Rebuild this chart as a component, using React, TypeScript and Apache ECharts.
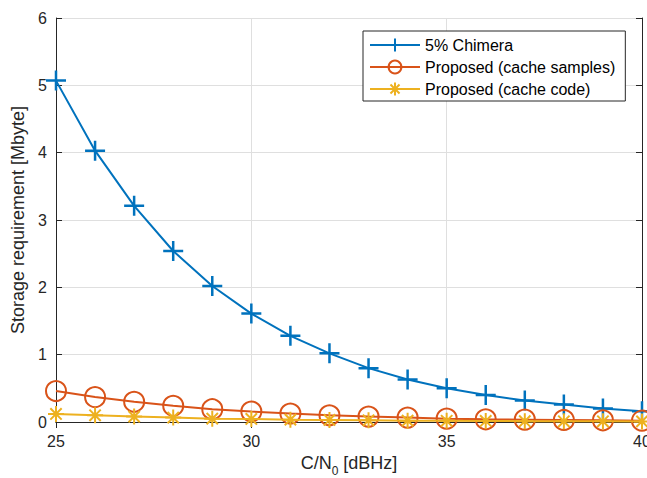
import React, { useEffect, useRef } from "react";
import * as echarts from "echarts";

const cn0 = [25, 26, 27, 28, 29, 30, 31, 32, 33, 34, 35, 36, 37, 38, 39, 40];
const chimera = [5.07, 4.03, 3.21, 2.54, 2.02, 1.61, 1.28, 1.02, 0.8, 0.63, 0.5, 0.4, 0.32, 0.26, 0.2, 0.16];
const cacheSamples = [0.46, 0.37, 0.3, 0.24, 0.19, 0.155, 0.125, 0.1, 0.08, 0.065, 0.05, 0.04, 0.035, 0.03, 0.025, 0.02];
const cacheCode = [0.12, 0.1, 0.08, 0.065, 0.05, 0.045, 0.035, 0.03, 0.025, 0.02, 0.018, 0.015, 0.012, 0.011, 0.01, 0.009];
const seriesNames = ["5% Chimera", "Proposed (cache samples)", "Proposed (cache code)"];
const xTicks = { min: 25, max: 40, interval: 5 };
const yTicks = { min: 0, max: 6, interval: 1 };

const BLUE = "#0072BD";
const ORANGE = "#D95319";
const YELLOW = "#EDB120";
const TEXT = "#262626";
const FONT = "'Liberation Sans', Arial, Helvetica, sans-serif";

const PLUS = "path://M5,0L5,10M0,5L10,5";
const STAR = "path://M5,0L5,10M0,5L10,5M1.46,1.46L8.54,8.54M1.46,8.54L8.54,1.46";

function pairs(ys: number[]) {
  return cn0.map((x, i) => [x, ys[i]]);
}

export default function App() {
  const ref = useRef<HTMLDivElement>(null);
  useEffect(() => {
    if (!ref.current) return;
    const chart = echarts.init(ref.current, null, { renderer: "svg" });
    const axisLine = { show: true, lineStyle: { color: TEXT, width: 1 } };
    const tick = { show: true, inside: true, length: 6, lineStyle: { color: TEXT, width: 1 } };
    chart.setOption({
      animation: false,
      backgroundColor: "#ffffff",
      textStyle: { fontFamily: FONT },
      grid: { left: 56, right: 5, top: 18, bottom: 56, containLabel: false, outerBoundsMode: "none" },
      legend: {
        orient: "vertical",
        left: 363,
        top: 31,
        data: seriesNames,
        itemWidth: 50,
        itemHeight: 16,
        itemGap: 6,
        padding: [6, 10, 4, 6],
        borderColor: TEXT,
        borderWidth: 1,
        backgroundColor: "#ffffff",
        textStyle: { fontSize: 16, color: "#000000", fontFamily: FONT },
      },
      xAxis: [
        {
          type: "value",
          ...xTicks,
          axisLine,
          axisTick: tick,
          axisLabel: { fontSize: 16, color: TEXT, margin: 11, fontFamily: FONT },
          splitLine: { show: true, lineStyle: { color: "#dfdfdf", width: 1 } },
          name: "{a|C/N}{s|0}{a| [dBHz]}",
          nameLocation: "middle",
          nameGap: 30,
          nameTextStyle: {
            color: TEXT,
            rich: {
              a: { fontSize: 18, color: TEXT, fontFamily: FONT, lineHeight: 20, verticalAlign: "bottom" },
              s: { fontSize: 12, color: TEXT, fontFamily: FONT, lineHeight: 20, verticalAlign: "bottom", padding: [0, 0, -5, 0] },
            },
          },
        },
        {
          type: "value",
          position: "top",
          ...xTicks,
          axisLine,
          axisTick: tick,
          axisLabel: { show: false },
          splitLine: { show: false },
        },
      ],
      yAxis: [
        {
          type: "value",
          ...yTicks,
          axisLine,
          axisTick: tick,
          axisLabel: { fontSize: 16, color: TEXT, margin: 9, fontFamily: FONT },
          splitLine: { show: true, lineStyle: { color: "#dfdfdf", width: 1 } },
          name: "Storage requirement [Mbyte]",
          nameLocation: "middle",
          nameGap: 22,
          nameTextStyle: { fontSize: 18, color: TEXT, fontFamily: FONT },
        },
        {
          type: "value",
          position: "right",
          ...yTicks,
          axisLine,
          axisTick: tick,
          axisLabel: { show: false },
          splitLine: { show: false },
        },
      ],
      series: [
        {
          name: seriesNames[0],
          type: "line",
          data: pairs(chimera),
          clip: false,
          symbol: PLUS,
          symbolSize: 20,
          showAllSymbol: true,
          lineStyle: { color: BLUE, width: 2 },
          itemStyle: { color: "transparent", borderColor: BLUE, borderWidth: 2.5 },
          z: 3,
        },
        {
          name: seriesNames[1],
          type: "line",
          data: pairs(cacheSamples),
          clip: false,
          symbol: "circle",
          symbolSize: 20,
          showAllSymbol: true,
          lineStyle: { color: ORANGE, width: 2 },
          itemStyle: { color: "transparent", borderColor: ORANGE, borderWidth: 2 },
          z: 4,
        },
        {
          name: seriesNames[2],
          type: "line",
          data: pairs(cacheCode),
          clip: false,
          symbol: STAR,
          symbolSize: 16,
          showAllSymbol: true,
          lineStyle: { color: YELLOW, width: 2 },
          itemStyle: { color: "transparent", borderColor: YELLOW, borderWidth: 2 },
          z: 5,
        },
      ],
    });
    return () => chart.dispose();
  }, []);
  return <div ref={ref} style={{ width: 647, height: 478, position: "absolute", left: 0, top: 0 }} />;
}
